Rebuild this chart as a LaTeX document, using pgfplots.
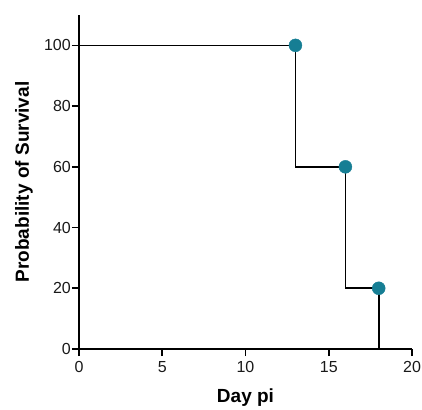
\documentclass[border=0pt]{standalone}
\usepackage{fontspec}
\setmainfont{Liberation Sans}
\usepackage{pgfplots}
\pgfplotsset{compat=1.18}
\definecolor{km}{HTML}{167E94}
\begin{document}
\begin{tikzpicture}
\begin{axis}[
    at={(0pt,0pt)}, anchor=origin,
    scale only axis,
    width=333pt, height=334pt,
    xmin=0, xmax=20, ymin=0, ymax=110,
    axis x line=bottom, axis y line=left,
    axis line style={-, line width=1.8pt},
    xtick={0,5,...,20}, ytick={0,20,...,100},
    tick style={black, line width=1.6pt},
    tick align=outside, major tick length=7pt,
    tick label style={font=\fontsize{16}{18}\selectfont, text=black!90},
    xticklabel style={inner sep=1pt, yshift=-4pt},
    yticklabel style={inner sep=1pt},
    /pgf/number format/assume math mode=true,
    xlabel={\textbf{Day pi}},
    ylabel={\textbf{Probability of Survival}},
    label style={font=\fontsize{19}{21}\selectfont},
    xlabel style={at={(axis description cs:0.5,0)}, anchor=base, yshift=-53pt},
    ylabel style={at={(axis description cs:0,0.5)}, anchor=base, yshift=50pt},
    clip=false,
]
\addplot[black, line width=1.7pt, mark=none] coordinates {
    (0,100) (13,100) (13,60) (16,60) (16,20) (18,20) (18,0)
};
\addplot[only marks, mark=*, mark size=6.5pt, km, mark options={draw=km, fill=km}] coordinates {
    (13,100) (16,60) (18,20)
};
\end{axis}
\path[use as bounding box] (-79pt,-60pt) rectangle (343pt,349pt);
\end{tikzpicture}
\end{document}
